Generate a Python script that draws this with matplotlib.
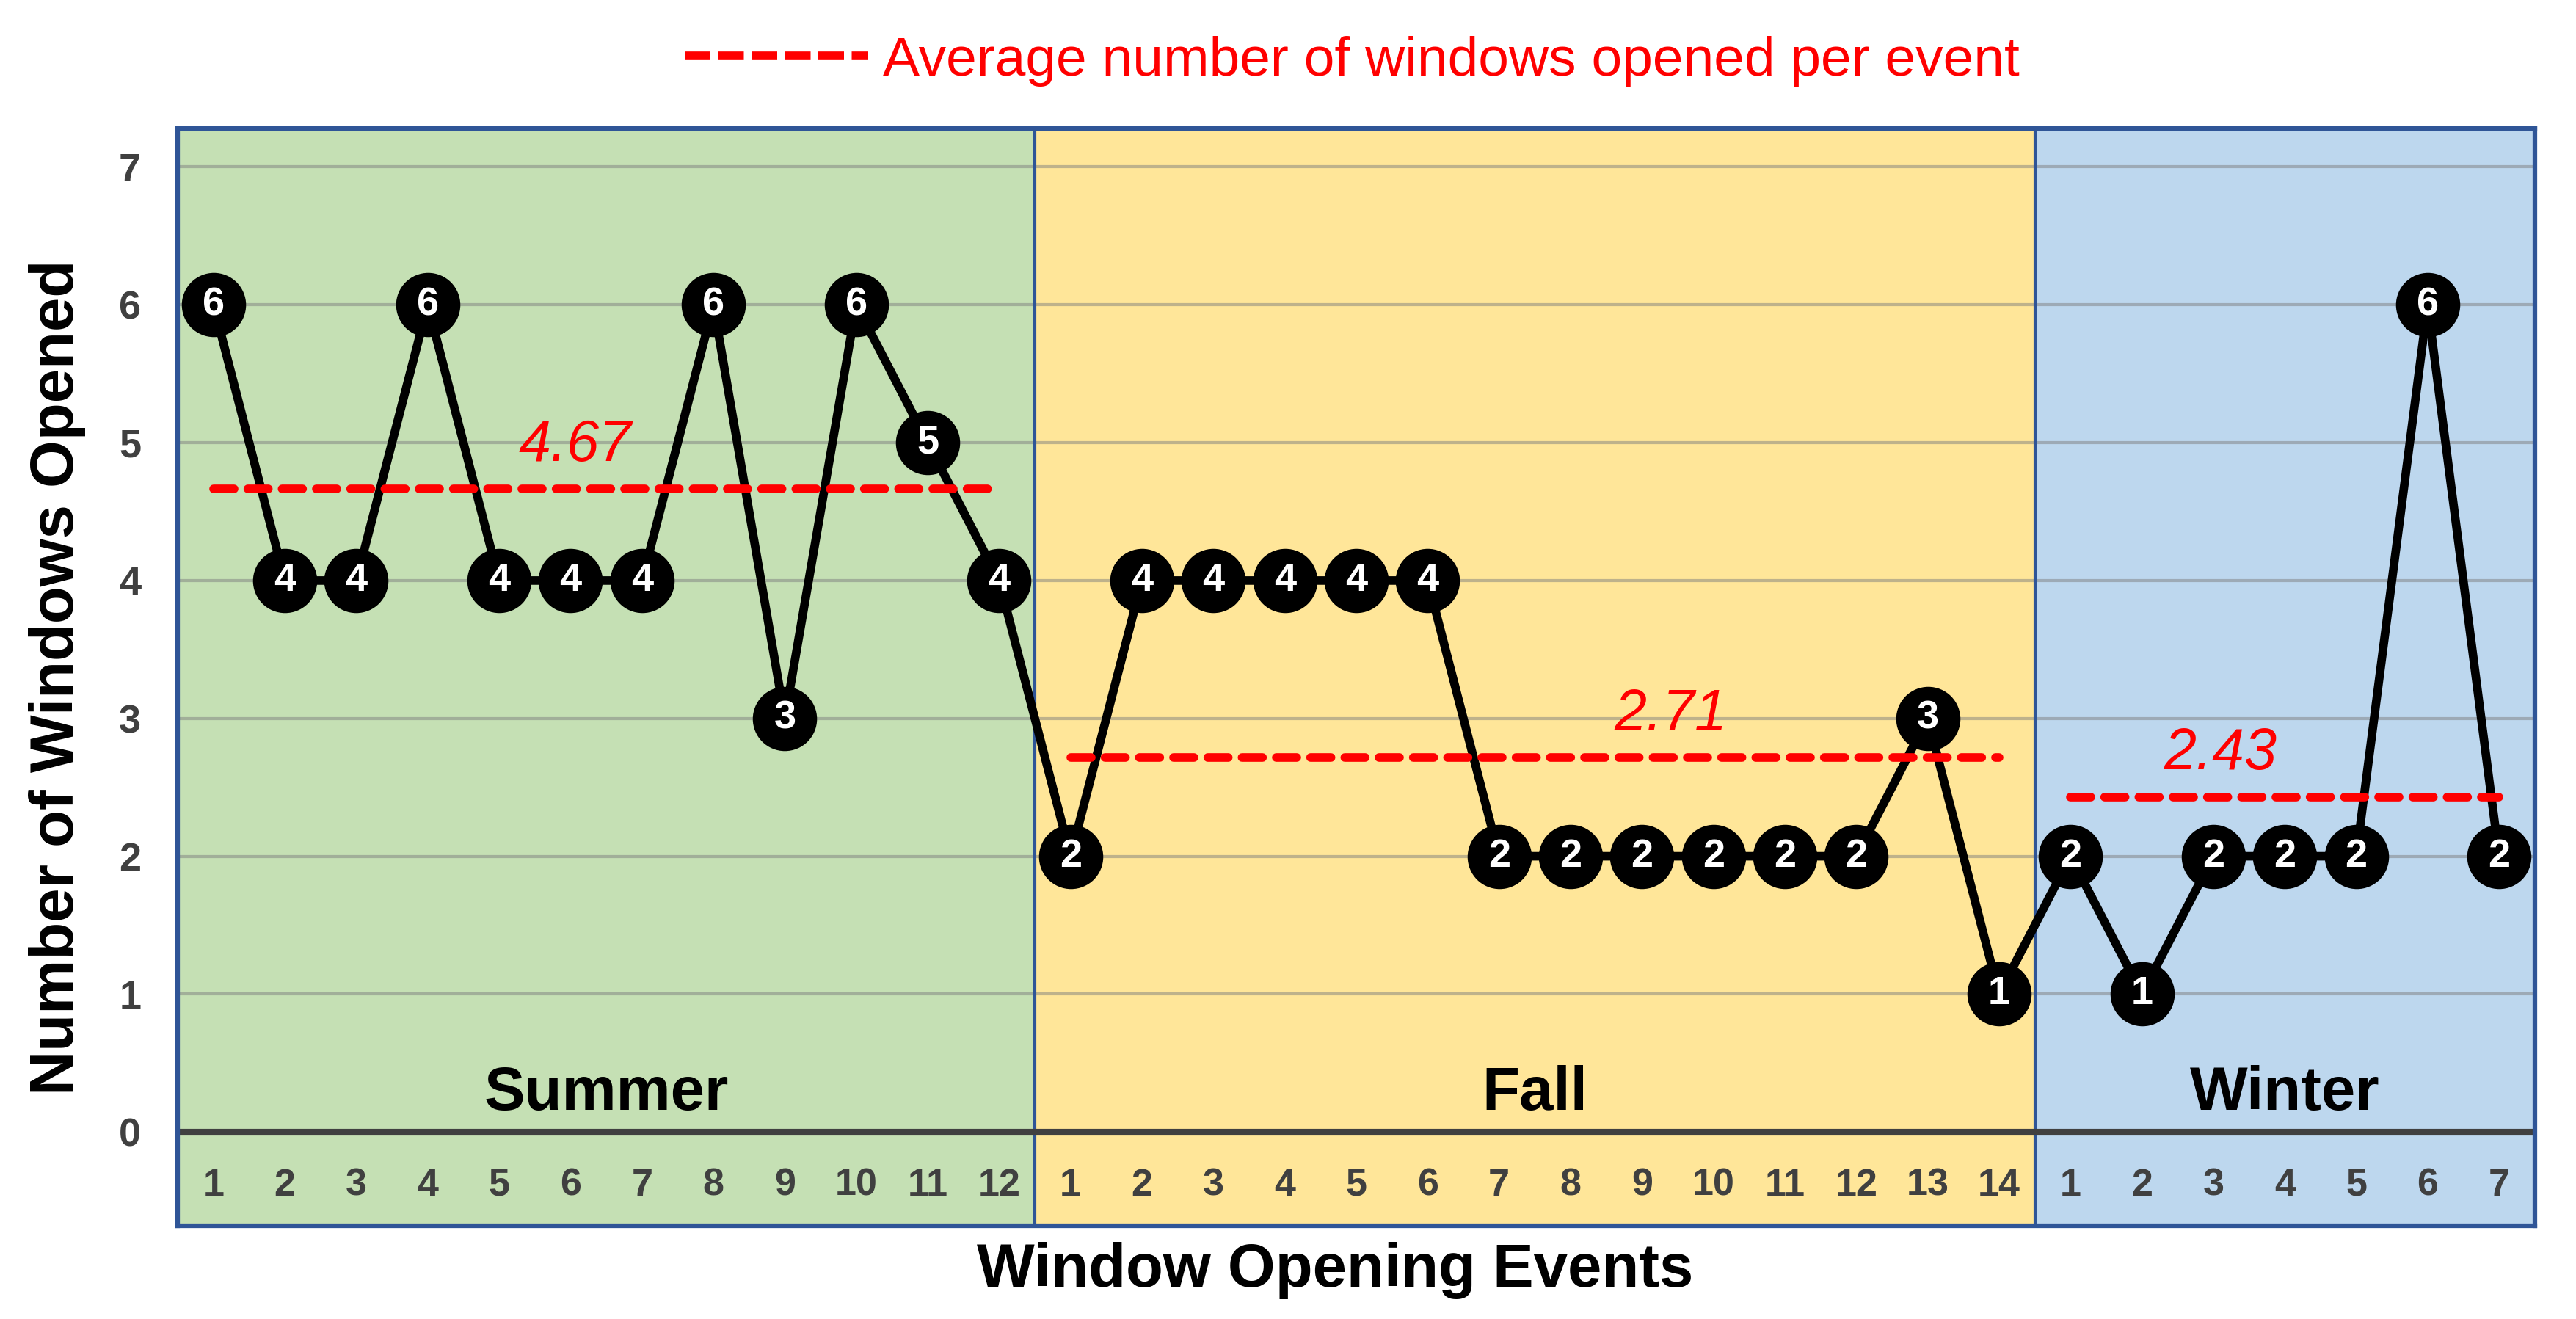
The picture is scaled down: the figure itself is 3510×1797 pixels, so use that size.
import numpy as np
import matplotlib.pyplot as plt
from matplotlib.lines import Line2D

plt.rcParams['font.family'] = ['Liberation Sans', 'DejaVu Sans']

# Windows opened per event, by season
seasons = ["Summer", "Fall", "Winter"]
summer = [6, 4, 4, 6, 4, 4, 4, 6, 3, 6, 5, 4]
fall = [2, 4, 4, 4, 4, 4, 2, 2, 2, 2, 2, 2, 3, 1]
winter = [2, 1, 2, 2, 2, 6, 2]
season_values = [summer, fall, winter]
season_colors = ["#C5E0B4", "#FFE699", "#BDD7EE"]
# x position (event index overall) of each average label
avg_label_x = [6.06, 21.4, 29.1]

values = summer + fall + winter
x = np.arange(1, len(values) + 1)

fig = plt.figure(figsize=(11.7, 5.99), dpi=300)
ax = fig.add_axes([0.069, 0.0707, 0.915, 0.832])

border = "#2F5597"
tick_gray = "#404040"

start = 1
for name, vals, col, lx in zip(seasons, season_values, season_colors, avg_label_x):
    n = len(vals)
    ax.axvspan(start - 0.5, start + n - 0.5, color=col, zorder=0, lw=0)
    ax.text(start + (n - 1) / 2, 0.28, name, ha="center", va="center",
            fontsize=20, fontweight="bold", zorder=3)
    avg = np.mean(vals)
    ax.plot([start, start + n - 1], [avg, avg], color="red", lw=2.8,
            dashes=(2.4, 1.6), dash_capstyle="round", zorder=3)
    ax.text(lx, avg + 0.31, f"{avg:.2f}", color="red", style="italic",
            fontsize=19, ha="center", va="center", zorder=3)
    for i in range(n):
        ax.text(start + i, -0.39, str(i + 1), ha="center", va="center",
                fontsize=12.5, fontweight="bold", color=tick_gray, zorder=3)
    if start > 1:
        ax.axvline(start - 0.5, color=border, lw=1.0, zorder=2)
    start += n

# grid and zero line
for yv in range(1, 8):
    ax.axhline(yv, color="#7f7f7f", alpha=0.5, lw=1.0, zorder=1)
ax.axhline(0, color=tick_gray, lw=2.2, zorder=2)

# data line with numbered markers
ax.plot(x, values, color="black", lw=2.8, zorder=2.5)
ax.plot(x, values, "o", color="black", ms=20, zorder=4)
for xi, v in zip(x, values):
    ax.text(xi, v, str(v), color="white", fontsize=13, fontweight="bold",
            ha="center", va="center", zorder=5)

ax.set_xlim(0.5, 33.5)
ax.set_ylim(-0.68, 7.28)
ax.set_xticks([])
ax.set_yticks(range(8))
ax.tick_params(axis="y", length=0, pad=12, labelsize=13, labelcolor=tick_gray)
for lab in ax.get_yticklabels():
    lab.set_fontweight("bold")
for sp in ax.spines.values():
    sp.set_color(border)
    sp.set_linewidth(1.5)

ax.set_ylabel("Number of Windows Opened", fontsize=20, fontweight="bold")
ax.yaxis.set_label_coords(-0.039, 0.5)
ax.set_xlabel("Window Opening Events", fontsize=20, fontweight="bold")
ax.xaxis.set_label_coords(0.491, -0.015)

handle = Line2D([], [], color="red", lw=2.8, dashes=(3.0, 0.9))
fig.legend([handle], ["Average number of windows opened per event"],
           loc="center", bbox_to_anchor=(0.525, 1 - 83 / 1797), frameon=False,
           fontsize=18, handlelength=3.33, handletextpad=0.27, labelcolor="red")

fig.savefig("out.png", dpi=300)
